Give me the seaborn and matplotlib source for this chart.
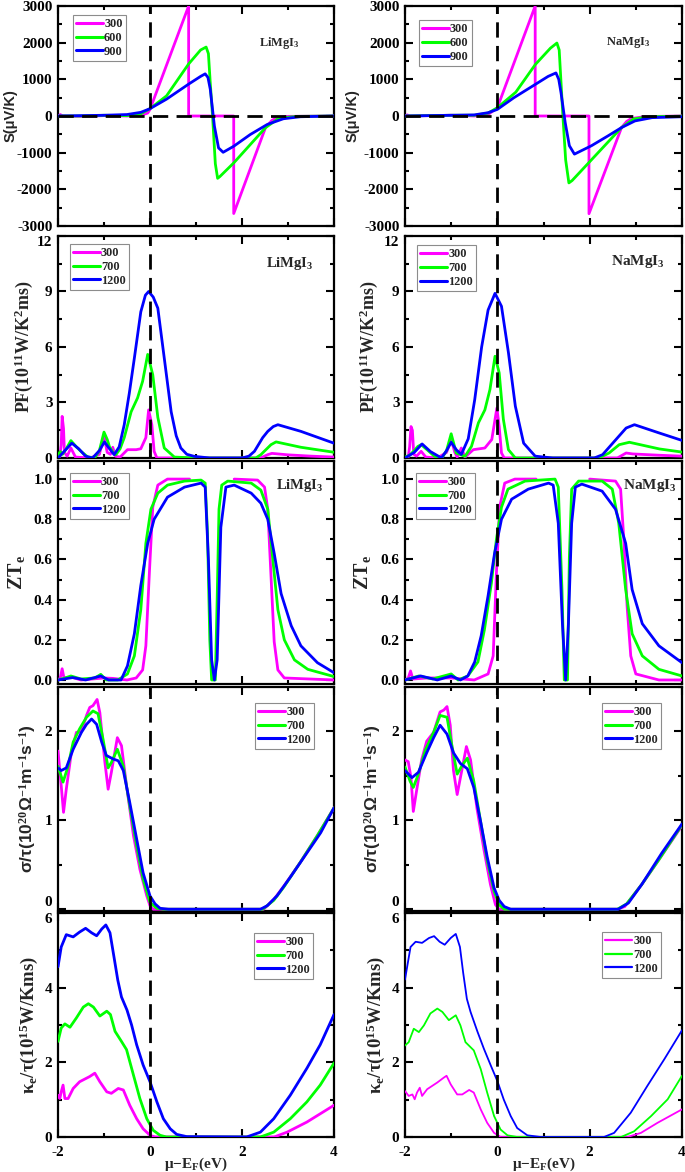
import numpy as np
import pandas as pd
import matplotlib
matplotlib.use("Agg")
import matplotlib.pyplot as plt
from matplotlib.lines import Line2D
from matplotlib.ticker import MultipleLocator, FormatStrFormatter
import seaborn as sns

# ---------------- data ----------------
TEMPS_S = ["300", "600", "900"]
TEMPS = ["300", "700", "1200"]
X_TICKS = [-2, 0, 2, 4]

# Seebeck S (uV/K)
li_s_300 = [(-2.0, 0), (-1.95, 40), (-1.9, 0), (-1.5, -10), (-1.0, 10), (-0.5, 0), (-0.2, 20), (-0.05, 80),
            (0.0, 180), (0.84, 3000), (0.84, 0), (1.82, 0), (1.82, -2660), (2.51, -320), (2.65, -120),
            (2.76, -46), (3.0, -10), (4.0, 0)]
li_s_600 = [(-2.0, 0), (-1.5, 0), (-1.0, 20), (-0.5, 10), (-0.2, 60), (0.0, 200), (0.36, 550), (0.84, 1420),
            (1.1, 1800), (1.22, 1880), (1.27, 1700), (1.31, 900), (1.36, 0), (1.42, -1300), (1.47, -1700),
            (1.52, -1650), (1.82, -1280), (2.51, -320), (2.8, -60), (3.2, -10), (4.0, 0)]
li_s_900 = [(-2.0, 0), (-1.5, 10), (-1.0, 20), (-0.5, 40), (-0.2, 100), (0.0, 200), (0.36, 460), (0.84, 870),
            (1.1, 1080), (1.2, 1150), (1.26, 1050), (1.31, 730), (1.4, -275), (1.49, -870), (1.59, -990),
            (1.82, -825), (2.18, -505), (2.55, -230), (2.9, -75), (3.27, -20), (4.0, 0)]
na_s_300 = [(-2.0, 0), (-1.95, 30), (-1.9, 0), (-1.0, 20), (-0.5, 0), (-0.2, 40), (0.0, 225), (0.82, 3000),
            (0.82, 0), (1.985, 0), (1.985, -2665), (2.69, -316), (2.8, -150), (2.9, -70), (3.2, -15), (4.0, 0)]
na_s_600 = [(-2.0, 0), (-1.0, 20), (-0.5, 20), (-0.2, 80), (0.0, 225), (0.4, 650), (0.82, 1400), (1.15, 1850),
            (1.29, 1990), (1.34, 1800), (1.38, 900), (1.42, 0), (1.48, -1200), (1.55, -1825), (1.62, -1760),
            (2.69, -316), (2.95, -80), (3.3, -20), (4.0, -5)]
na_s_900 = [(-2.0, 0), (-1.0, 20), (-0.5, 30), (-0.2, 90), (0.0, 180), (0.36, 500), (0.82, 860), (1.1, 1080),
            (1.27, 1175), (1.33, 1000), (1.38, 630), (1.47, -180), (1.56, -810), (1.67, -1040), (2.04, -810),
            (2.4, -540), (2.69, -316), (2.98, -135), (3.35, -45), (4.0, -20)]

# Power factor PF (1e11 W/K^2 m s)
li_pf_300 = [(-2.0, 0.0), (-1.96, 0.1), (-1.93, 0.7), (-1.91, 2.25), (-1.88, 1.6), (-1.86, 0.3), (-1.8, 0.1),
             (-1.72, 0.54), (-1.62, 0.05), (-1.3, 0.0), (-1.1, 0.2), (-1.0, 1.2), (-0.93, 0.3), (-0.86, 0.2),
             (-0.81, 0.58), (-0.75, 0.1), (-0.65, 0.05), (-0.49, 0.45), (-0.3, 0.45), (-0.2, 0.5),
             (-0.09, 1.1), (-0.03, 2.6), (0.04, 1.8), (0.09, 0.36), (0.15, 0.0), (2.4, 0.0), (2.56, 0.18),
             (2.65, 0.25), (3.0, 0.17), (3.5, 0.1), (4.0, 0.05)]
li_pf_700 = [(-2.0, 0.15), (-1.95, 0.35), (-1.9, 0.2), (-1.82, 0.5), (-1.72, 0.94), (-1.6, 0.6), (-1.5, 0.36),
             (-1.35, 0.05), (-1.2, 0.02), (-1.1, 0.4), (-1.0, 1.4), (-0.93, 1.0), (-0.88, 0.6), (-0.8, 0.3),
             (-0.74, 0.18), (-0.65, 0.5), (-0.56, 1.1), (-0.41, 2.5), (-0.27, 3.25), (-0.16, 4.15),
             (-0.05, 5.6), (0.06, 4.5), (0.17, 2.2), (0.31, 0.54), (0.53, 0.05), (1.0, 0.0), (2.3, 0.0),
             (2.41, 0.18), (2.63, 0.72), (2.74, 0.87), (3.28, 0.58), (4.0, 0.31)]
li_pf_1200 = [(-2.0, 0.0), (-1.85, 0.4), (-1.7, 0.8), (-1.55, 0.5), (-1.4, 0.1), (-1.25, 0.0), (-1.1, 0.4),
              (-0.99, 0.87), (-0.88, 0.5), (-0.78, 0.18), (-0.67, 0.6), (-0.56, 1.8), (-0.45, 3.5),
              (-0.34, 5.4), (-0.2, 7.9), (-0.1, 8.8), (-0.03, 9.0), (0.07, 8.7), (0.17, 8.1), (0.31, 5.4),
              (0.46, 2.5), (0.57, 1.2), (0.67, 0.54), (0.8, 0.2), (0.96, 0.09), (1.3, 0.0), (2.0, 0.0),
              (2.15, 0.1), (2.27, 0.36), (2.45, 1.1), (2.56, 1.44), (2.68, 1.7), (2.78, 1.8), (3.28, 1.44),
              (4.0, 0.8)]
na_pf_300 = [(-2.0, 0.0), (-1.93, 0.05), (-1.9, 0.6), (-1.87, 1.7), (-1.84, 1.5), (-1.81, 0.2), (-1.75, 0.1),
             (-1.65, 0.36), (-1.55, 0.05), (-1.3, 0.0), (-1.1, 0.3), (-1.0, 1.0), (-0.92, 0.3), (-0.87, 0.05),
             (-0.78, 0.54), (-0.7, 0.05), (-0.52, 0.45), (-0.27, 0.54), (-0.12, 1.0), (-0.01, 2.7),
             (0.04, 1.7), (0.09, 0.27), (0.15, 0.0), (2.6, 0.0), (2.79, 0.27), (2.93, 0.22), (3.5, 0.15),
             (4.0, 0.1)]
na_pf_700 = [(-2.0, 0.05), (-1.9, 0.15), (-1.8, 0.4), (-1.72, 0.63), (-1.65, 0.72), (-1.5, 0.4), (-1.36, 0.09),
             (-1.2, 0.0), (-1.1, 0.4), (-1.0, 1.31), (-0.89, 0.27), (-0.7, 0.09), (-0.56, 0.63), (-0.41, 1.9),
             (-0.27, 2.6), (-0.16, 3.7), (-0.05, 5.5), (0.04, 4.6), (0.13, 2.1), (0.24, 0.45), (0.39, 0.0),
             (2.2, 0.0), (2.42, 0.27), (2.64, 0.72), (2.86, 0.85), (3.51, 0.49), (4.0, 0.32)]
na_pf_1200 = [(-2.0, 0.0), (-1.8, 0.3), (-1.63, 0.76), (-1.45, 0.35), (-1.21, 0.0), (-1.1, 0.4), (-1.0, 0.85),
              (-0.89, 0.45), (-0.78, 0.19), (-0.63, 1.04), (-0.49, 3.15), (-0.34, 6.0), (-0.2, 8.0),
              (-0.05, 8.9), (0.09, 8.2), (0.24, 5.7), (0.39, 2.8), (0.57, 0.8), (0.82, 0.1), (1.2, 0.0),
              (2.1, 0.0), (2.28, 0.18), (2.57, 1.0), (2.79, 1.62), (2.97, 1.8), (3.51, 1.35), (4.0, 0.95)]

# Electronic figure of merit ZTe (NaN marks a break in the curve)
li_zt_300 = [(-2.0, 0.0), (-1.95, 0.01), (-1.91, 0.056), (-1.87, 0.01), (-1.72, 0.015), (-1.5, 0.0),
             (-1.0, 0.01), (-0.81, 0.008), (-0.5, 0.0), (-0.3, 0.01), (-0.16, 0.05), (-0.09, 0.17),
             (-0.01, 0.55), (0.06, 0.86), (0.17, 0.97), (0.38, 1.0), (0.86, 1.0), (np.nan, np.nan),
             (1.83, 1.0), (2.34, 0.995), (2.49, 0.96), (2.56, 0.85), (2.63, 0.52), (2.7, 0.19), (2.78, 0.05),
             (2.92, 0.01), (4.0, 0.0)]
li_zt_700 = [(-2.0, 0.0), (-1.85, 0.01), (-1.72, 0.02), (-1.5, 0.005), (-1.2, 0.01), (-1.07, 0.028),
             (-0.95, 0.0), (-0.7, 0.0), (-0.49, 0.03), (-0.34, 0.12), (-0.2, 0.35), (-0.09, 0.68), (0.02, 0.85),
             (0.17, 0.93), (0.38, 0.97), (0.75, 0.99), (1.11, 0.995), (1.2, 0.98), (1.25, 0.73), (1.3, 0.2),
             (1.34, 0.0), (1.42, 0.0), (1.46, 0.4), (1.5, 0.85), (1.56, 0.97), (1.69, 0.99), (2.2, 0.98),
             (2.41, 0.945), (2.56, 0.85), (2.67, 0.6), (2.78, 0.35), (2.92, 0.2), (3.14, 0.1), (3.43, 0.053),
             (4.0, 0.017)]
li_zt_1200 = [(-2.0, 0.0), (-1.68, 0.012), (-1.4, 0.0), (-1.07, 0.02), (-0.9, 0.0), (-0.63, 0.0), (-0.49, 0.07),
              (-0.34, 0.23), (-0.2, 0.47), (-0.05, 0.68), (0.09, 0.8), (0.38, 0.91), (0.75, 0.96), (1.11, 0.98),
              (1.2, 0.96), (1.27, 0.6), (1.34, 0.1), (1.4, 0.0), (1.46, 0.1), (1.54, 0.76), (1.65, 0.96),
              (1.83, 0.97), (2.2, 0.93), (2.41, 0.88), (2.56, 0.8), (2.7, 0.63), (2.85, 0.43), (3.07, 0.27),
              (3.28, 0.17), (3.64, 0.086), (4.0, 0.036)]
na_zt_300 = [(-2.0, 0.0), (-1.93, 0.01), (-1.88, 0.045), (-1.83, 0.005), (-1.5, 0.01), (-1.0, 0.01), (-0.5, 0.0),
             (-0.2, 0.03), (-0.09, 0.12), (-0.02, 0.53), (0.05, 0.86), (0.16, 0.98), (0.38, 1.0), (0.84, 1.0),
             (np.nan, np.nan), (2.0, 1.0), (2.56, 0.99), (2.67, 0.95), (2.74, 0.7), (2.81, 0.37), (2.89, 0.12),
             (3.0, 0.03), (3.5, 0.0), (4.0, 0.0)]
na_zt_700 = [(-2.0, 0.0), (-1.7, 0.02), (-1.4, 0.005), (-1.0, 0.03), (-0.85, 0.0), (-0.64, 0.02), (-0.42, 0.09),
             (-0.28, 0.25), (-0.13, 0.48), (-0.02, 0.7), (0.09, 0.86), (0.23, 0.95), (0.6, 0.99), (1.25, 1.0),
             (1.32, 0.96), (1.4, 0.45), (1.45, 0.0), (1.52, 0.0), (1.56, 0.61), (1.61, 0.95), (1.76, 0.99),
             (2.27, 0.99), (2.49, 0.95), (2.63, 0.78), (2.78, 0.45), (2.92, 0.23), (3.14, 0.12), (3.5, 0.053),
             (4.0, 0.02)]
na_zt_1200 = [(-2.0, 0.0), (-1.66, 0.02), (-1.3, 0.0), (-1.0, 0.02), (-0.8, 0.0), (-0.64, 0.02), (-0.49, 0.09),
              (-0.35, 0.22), (-0.2, 0.42), (-0.06, 0.63), (0.09, 0.8), (0.31, 0.9), (0.67, 0.95), (1.11, 0.98),
              (1.21, 0.97), (1.32, 0.78), (1.41, 0.28), (1.48, 0.0), (1.54, 0.28), (1.61, 0.78), (1.69, 0.96),
              (1.83, 0.975), (2.27, 0.94), (2.56, 0.85), (2.78, 0.68), (2.92, 0.45), (3.14, 0.28), (3.5, 0.17),
              (4.0, 0.086)]

# Electrical conductivity sigma/tau (1e20 1/(Ohm m s))
li_sig_300 = [(-2.0, 1.78), (-1.93, 1.39), (-1.88, 1.09), (-1.82, 1.35), (-1.71, 1.76), (-1.6, 1.99),
              (-1.49, 2.0), (-1.38, 2.18), (-1.31, 2.27), (-1.24, 2.29), (-1.15, 2.36), (-1.09, 2.21),
              (-0.98, 1.65), (-0.91, 1.35), (-0.84, 1.54), (-0.71, 1.93), (-0.62, 1.84), (-0.51, 1.39),
              (-0.36, 0.83), (-0.22, 0.45), (-0.07, 0.15), (0.0, 0.04), (0.07, 0.0), (2.47, 0.0), (2.69, 0.11),
              (2.91, 0.26), (3.27, 0.53), (3.64, 0.83), (4.0, 1.14)]
li_sig_700 = [(-2.0, 1.61), (-1.89, 1.43), (-1.78, 1.61), (-1.67, 1.88), (-1.53, 2.03), (-1.38, 2.16),
              (-1.24, 2.23), (-1.13, 2.2), (-1.02, 1.91), (-0.91, 1.59), (-0.84, 1.65), (-0.71, 1.8),
              (-0.58, 1.61), (-0.44, 1.16), (-0.29, 0.71), (-0.15, 0.34), (0.0, 0.075), (0.15, 0.01), (0.3, 0.0),
              (2.45, 0.0), (2.69, 0.1), (2.91, 0.25), (3.27, 0.53), (3.64, 0.83), (4.0, 1.14)]
li_sig_1200 = [(-2.0, 1.59), (-1.93, 1.56), (-1.82, 1.59), (-1.67, 1.8), (-1.49, 1.99), (-1.38, 2.08),
               (-1.27, 2.14), (-1.16, 2.08), (-1.05, 1.88), (-0.95, 1.73), (-0.8, 1.69), (-0.69, 1.67),
               (-0.58, 1.56), (-0.44, 1.2), (-0.29, 0.79), (-0.15, 0.41), (0.0, 0.15), (0.11, 0.06),
               (0.22, 0.01), (0.4, 0.0), (2.4, 0.0), (2.55, 0.04), (2.76, 0.15), (3.05, 0.36), (3.42, 0.64),
               (3.71, 0.86), (4.0, 1.14)]
na_sig_300 = [(-2.0, 1.68), (-1.93, 1.66), (-1.87, 1.48), (-1.82, 1.1), (-1.75, 1.33), (-1.64, 1.68),
              (-1.53, 1.89), (-1.38, 1.99), (-1.24, 2.22), (-1.16, 2.24), (-1.09, 2.28), (-1.02, 2.07),
              (-0.95, 1.56), (-0.87, 1.29), (-0.8, 1.48), (-0.67, 1.83), (-0.58, 1.68), (-0.44, 1.13),
              (-0.29, 0.67), (-0.15, 0.28), (-0.04, 0.05), (0.04, 0.0), (2.6, 0.0), (2.76, 0.03), (3.13, 0.28),
              (3.49, 0.55), (4.0, 0.94)]
na_sig_700 = [(-2.0, 1.6), (-1.89, 1.44), (-1.82, 1.37), (-1.71, 1.52), (-1.56, 1.79), (-1.38, 1.99),
              (-1.24, 2.18), (-1.09, 2.16), (-0.98, 1.83), (-0.87, 1.52), (-0.76, 1.62), (-0.65, 1.7),
              (-0.51, 1.44), (-0.36, 0.98), (-0.22, 0.55), (-0.07, 0.2), (0.04, 0.05), (0.15, 0.0), (2.6, 0.0),
              (2.8, 0.06), (3.13, 0.28), (3.49, 0.55), (4.0, 0.95)]
na_sig_1200 = [(-2.0, 1.56), (-1.85, 1.48), (-1.71, 1.54), (-1.53, 1.76), (-1.38, 1.93), (-1.24, 2.07),
               (-1.09, 1.97), (-0.95, 1.76), (-0.8, 1.64), (-0.65, 1.58), (-0.51, 1.37), (-0.36, 0.98),
               (-0.22, 0.59), (-0.07, 0.24), (0.04, 0.1), (0.15, 0.03), (0.29, 0.0), (2.62, 0.0), (2.84, 0.07),
               (3.13, 0.28), (3.56, 0.63), (4.0, 0.96)]

# Electronic thermal conductivity kappa_e/tau (1e15 W/K m s)
li_k_300 = [(-2.0, 1.12), (-1.96, 1.03), (-1.93, 1.21), (-1.89, 1.39), (-1.85, 1.03), (-1.78, 1.03),
            (-1.67, 1.3), (-1.53, 1.48), (-1.31, 1.62), (-1.2, 1.71), (-1.09, 1.48), (-0.94, 1.21),
            (-0.84, 1.17), (-0.69, 1.3), (-0.58, 1.26), (-0.44, 0.85), (-0.29, 0.49), (-0.15, 0.22),
            (0.0, 0.045), (0.11, 0.0), (2.7, 0.0), (2.98, 0.13), (3.41, 0.4), (4.0, 0.85)]
li_k_700 = [(-2.0, 2.56), (-1.93, 2.92), (-1.85, 3.03), (-1.74, 2.94), (-1.6, 3.19), (-1.45, 3.48),
            (-1.34, 3.57), (-1.23, 3.48), (-1.09, 3.24), (-0.94, 3.37), (-0.86, 3.28), (-0.76, 2.83),
            (-0.62, 2.56), (-0.51, 2.34), (-0.36, 1.66), (-0.22, 1.03), (-0.07, 0.49), (0.07, 0.18),
            (0.22, 0.045), (0.36, 0.0), (2.4, 0.0), (2.69, 0.13), (3.05, 0.49), (3.41, 0.94), (3.7, 1.39),
            (4.0, 1.98)]
li_k_1200 = [(-2.0, 4.56), (-1.93, 5.09), (-1.82, 5.42), (-1.67, 5.36), (-1.53, 5.49), (-1.4, 5.59),
             (-1.27, 5.47), (-1.16, 5.39), (-1.05, 5.57), (-0.96, 5.68), (-0.87, 5.47), (-0.78, 4.8),
             (-0.7, 4.2), (-0.62, 3.75), (-0.5, 3.4), (-0.4, 3.0), (-0.29, 2.47), (-0.15, 1.93), (0.0, 1.48),
             (0.15, 0.94), (0.29, 0.49), (0.44, 0.22), (0.58, 0.07), (0.8, 0.01), (2.1, 0.0), (2.4, 0.13),
             (2.69, 0.49), (3.05, 1.12), (3.41, 1.84), (3.7, 2.47), (4.0, 3.28)]
na_k_300 = [(-2.0, 1.23), (-1.92, 1.1), (-1.84, 1.14), (-1.79, 1.01), (-1.74, 1.19), (-1.68, 1.32),
            (-1.63, 1.1), (-1.52, 1.28), (-1.3, 1.46), (-1.16, 1.59), (-1.1, 1.64), (-1.01, 1.41),
            (-0.87, 1.14), (-0.76, 1.14), (-0.61, 1.26), (-0.51, 1.19), (-0.36, 0.74), (-0.22, 0.38),
            (-0.07, 0.11), (0.07, 0.0), (2.82, 0.0), (3.11, 0.11), (3.47, 0.38), (4.0, 0.74)]
na_k_700 = [(-2.0, 2.45), (-1.92, 2.54), (-1.81, 2.9), (-1.7, 2.81), (-1.59, 2.99), (-1.45, 3.31),
            (-1.3, 3.44), (-1.19, 3.35), (-1.05, 3.13), (-0.9, 3.26), (-0.8, 2.99), (-0.69, 2.54),
            (-0.51, 2.32), (-0.36, 1.82), (-0.22, 1.19), (-0.07, 0.56), (0.07, 0.2), (0.22, 0.045),
            (0.43, 0.0), (2.68, 0.0), (2.96, 0.15), (3.33, 0.56), (3.69, 1.01), (4.0, 1.64)]
na_k_1200 = [(-2.0, 4.22), (-1.88, 5.09), (-1.77, 5.23), (-1.63, 5.2), (-1.48, 5.33), (-1.37, 5.38),
             (-1.25, 5.23), (-1.14, 5.15), (-1.01, 5.33), (-0.9, 5.44), (-0.81, 5.09), (-0.74, 4.4),
             (-0.66, 3.7), (-0.58, 3.35), (-0.43, 2.82), (-0.29, 2.36), (-0.14, 1.91), (0.0, 1.5), (0.14, 1.0),
             (0.29, 0.56), (0.43, 0.24), (0.65, 0.045), (0.94, 0.0), (2.31, 0.0), (2.53, 0.11), (2.89, 0.65),
             (3.25, 1.37), (3.62, 2.09), (4.0, 2.86)]

# ---------------- style ----------------
COLORS = ["#FF00FF", "#00FF00", "#0000FF"]
sns.set_style("ticks")
plt.rcParams.update({
    "font.family": ["Liberation Serif", "DejaVu Serif"],
    "font.weight": "bold",
    "axes.labelweight": "bold",
    "axes.unicode_minus": False,
    "mathtext.fontset": "custom",
    "mathtext.rm": "Liberation Serif:bold",
    "mathtext.it": "Liberation Serif:bold",
    "mathtext.bf": "Liberation Serif:bold",
})

W, H = 685, 1172
fig = plt.figure(figsize=(W / 100, H / 100), dpi=100)

ROWS = [(6, 226), (236, 458), (461, 684), (687, 911), (913, 1137)]
COLS = [(58, 334), (405, 682)]

SERIF = ["Liberation Serif", "DejaVu Serif"]
SANS = ["Liberation Sans", "DejaVu Sans"]

rows_cfg = [
    dict(series=([li_s_300, li_s_600, li_s_900], [na_s_300, na_s_600, na_s_900]), temps=TEMPS_S,
         ylim=(-3000, 3000), maj=1000, mnr=500, fmt="%d", ylabel="S(μV/K)", yfam=SANS, ysize=10.5,
         lab_x=(18, 360), leg_loc="upper left", leg_anchor=((0.054, 0.959), (0.05, 0.936)),
         note=(("LiMgI$_3$", 0.80, 0.83, 8.8), ("NaMgI$_3$", 0.805, 0.836, 9)), vline=(True, True), hline=True,
         va_fix=()),
    dict(series=([li_pf_300, li_pf_700, li_pf_1200], [na_pf_300, na_pf_700, na_pf_1200]), temps=TEMPS,
         ylim=(0, 12), maj=3, mnr=1.5, fmt="%d", ylabel="PF(10$^{11}$W/K$^{2}$ms)", yfam=SERIF, ysize=13,
         lab_x=(35, 380), leg_loc="upper left", leg_anchor=((0.043, 0.964), (0.043, 0.959)),
         note=(("LiMgI$_3$", 0.84, 0.878, 10.5), ("NaMgI$_3$", 0.84, 0.883, 11)), vline=(True, True), hline=False,
         va_fix=((12, "top"),)),
    dict(series=([li_zt_300, li_zt_700, li_zt_1200], [na_zt_300, na_zt_700, na_zt_1200]), temps=TEMPS,
         ylim=(-0.02, 1.09), maj=0.2, mnr=0.1, fmt="%.1f", ylabel="ZT$_{e}$", yfam=SERIF, ysize=14.5,
         lab_x=(27, 373), leg_loc="upper left", leg_anchor=((0.043, 0.946), (0.04, 0.946)),
         note=(("LiMgI$_3$", 0.877, 0.892, 10.5), ("NaMgI$_3$", 0.885, 0.892, 11)), vline=(False, True),
         hline=False, va_fix=()),
    dict(series=([li_sig_300, li_sig_700, li_sig_1200], [na_sig_300, na_sig_700, na_sig_1200]), temps=TEMPS,
         ylim=(-0.02, 2.5), maj=1, mnr=0.5, fmt="%d",
         ylabel="σ/τ(10$^{20}$Ω$^{-1}$m$^{-1}$s$^{-1}$)", yfam=SANS, ysize=12.5,
         lab_x=(38, 383), leg_loc="upper right", leg_anchor=((0.928, 0.929), (0.924, 0.929)),
         note=None, vline=(True, True), hline=False, va_fix=((0, "bottom"),)),
    dict(series=([li_k_300, li_k_700, li_k_1200], [na_k_300, na_k_700, na_k_1200]), temps=TEMPS,
         ylim=(0, 6), maj=2, mnr=1, fmt="%d", ylabel="κ$_{e}$/τ(10$^{15}$W/Kms)", yfam=SERIF, ysize=13.5,
         lab_x=(40, 387), leg_loc="upper right", leg_anchor=((0.924, 0.911), (0.924, 0.915)),
         note=None, vline=(True, True), hline=False, va_fix=((6, "top"),)),
]


def series_frame(pairs):
    arr = np.array(pairs, dtype=float)
    df = pd.DataFrame({"x": arr[:, 0], "y": arr[:, 1]})
    df["seg"] = df["x"].isna().cumsum()
    return df.dropna()


def set_tick_va(ax, value, va):
    locs = ax.yaxis.get_majorticklocs()
    ticks = ax.yaxis.get_major_ticks(len(locs))
    for t, v in zip(ticks, locs):
        if abs(v - value) < 1e-9:
            t.label1.set_verticalalignment(va)


dash = (0, (5.5, 3))
for r, cfg in enumerate(rows_cfg):
    top, bot = ROWS[r]
    for c in range(2):
        x0, x1 = COLS[c]
        ax = fig.add_axes([x0 / W, 1 - bot / H, (x1 - x0) / W, (bot - top) / H])
        lw = 1.3 if (r == 4 and c == 1) else 2.0
        for pairs, col in zip(cfg["series"][c], COLORS):
            df = series_frame(pairs)
            sns.lineplot(data=df, x="x", y="y", units="seg", estimator=None, sort=False,
                         color=col, linewidth=lw, legend=False, ax=ax, zorder=3)
        if cfg["vline"][c]:
            ax.axvline(0, color="black", lw=2.0, ls=dash, zorder=5)
        if cfg["hline"]:
            ax.axhline(0, color="black", lw=2.0, ls=dash, zorder=5)

        ax.set_xlim(-2, 4)
        ax.set_ylim(*cfg["ylim"])
        ax.xaxis.set_major_locator(MultipleLocator(2))
        ax.xaxis.set_minor_locator(MultipleLocator(1))
        ax.yaxis.set_major_locator(MultipleLocator(cfg["maj"]))
        ax.yaxis.set_minor_locator(MultipleLocator(cfg["mnr"]))
        ax.yaxis.set_major_formatter(FormatStrFormatter(cfg["fmt"]))
        ax.tick_params(which="both", direction="in", top=True, right=True, width=1.5, colors="black")
        ax.tick_params(which="major", length=5.5, labelsize=11, pad=4)
        ax.tick_params(which="minor", length=3)
        ax.tick_params(axis="x", which="major", pad=6.5)
        for s in ax.spines.values():
            s.set_linewidth(1.6)
            s.set_color("black")
        if r < 4:
            ax.tick_params(labelbottom=False)
            ax.set_xlabel("")
        else:
            ax.set_xticks(X_TICKS)
            ax.set_xlabel("μ−E$_{F}$(eV)", fontsize=11)
            ax.xaxis.set_label_coords(0.5, -0.083)
        ax.set_ylabel(cfg["ylabel"], family=cfg["yfam"], fontsize=cfg["ysize"], fontweight="bold")
        ax.yaxis.set_label_coords((cfg["lab_x"][c] - x0) / (x1 - x0), 0.5)

        handles = [Line2D([], [], color=col, lw=2.2 if lw > 1.5 else 1.6) for col in COLORS]
        leg = ax.legend(handles, cfg["temps"], loc=cfg["leg_loc"], bbox_to_anchor=cfg["leg_anchor"][c],
                        borderaxespad=0, fontsize=8.8, frameon=True, fancybox=False, edgecolor="0.55",
                        framealpha=1, handlelength=2.2, handletextpad=0.1, labelspacing=0.15, borderpad=0.25)
        leg.get_frame().set_linewidth(0.8)
        if cfg["note"] is not None:
            txt, nx, ny, ns = cfg["note"][c]
            ax.text(nx, ny, txt, transform=ax.transAxes, ha="center", va="center", fontsize=ns,
                    fontweight="bold")
        for val, va in cfg["va_fix"]:
            set_tick_va(ax, val, va)

fig.savefig("out.png", dpi=100)
